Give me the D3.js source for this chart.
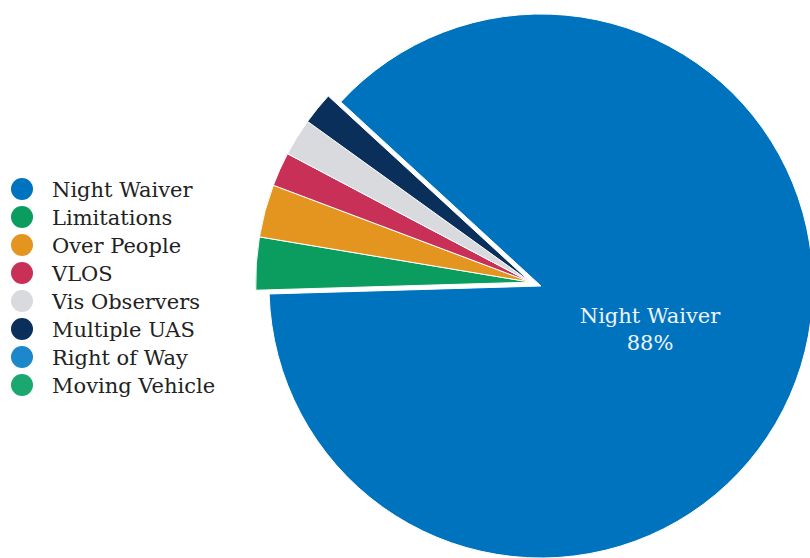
<!DOCTYPE html>
<html>
<head>
<meta charset="utf-8">
<script src="https://cdn.jsdelivr.net/npm/d3@7"></script>
<style>
  body { margin: 0; background: #fff; }
  svg text { font-family: "DejaVu Serif", "Liberation Serif", serif; }
</style>
</head>
<body>
<svg id="chart" width="810" height="558"></svg>
<script>
// waiver categories, share of total (%)
const categories = ["Night Waiver", "Limitations", "Over People", "VLOS", "Vis Observers", "Multiple UAS", "Right of Way", "Moving Vehicle"];
const values = [87.7, 3.1, 3.1, 2.0, 2.2, 1.9, 0, 0];
const colors = ["#0073bf", "#0b9c5f", "#e3951f", "#c93058", "#d8dade", "#0b2f5b", "#1c88cb", "#1aa870"];
const labelText = ["Night Waiver", "88%"];

const svg = d3.select("#chart");
const cx = 541, cy = 286, radius = 272;

const data = categories.map((c, i) => ({ name: c, value: values[i], color: colors[i] }));

// start of the big slice, clockwise from 12 o'clock
const start = 312.6 * Math.PI / 180;
const pie = d3.pie().sort(null).value(d => d.value)
    .startAngle(start).endAngle(start + 2 * Math.PI);
const arcs = pie(data);
const arc = d3.arc().innerRadius(0).outerRadius(radius);
const arcSmall = d3.arc().innerRadius(0).outerRadius(radius + 3);

// small slices are pulled out together along their common bisector
const small = arcs.slice(1);
const midA = (d3.min(small, d => d.startAngle) + d3.max(small, d => d.endAngle)) / 2;
const pull = 11;
const off = [Math.sin(midA) * pull, -Math.cos(midA) * pull];

const g = svg.append("g").attr("transform", `translate(${cx},${cy})`);

g.selectAll("path.slice")
    .data(arcs)
    .enter()
    .append("path")
    .attr("class", "slice")
    .attr("d", (d, i) => i === 0 ? arc(d) : arcSmall(d))
    .attr("transform", (d, i) => i === 0 ? null : `translate(${off[0]},${off[1]})`)
    .attr("fill", d => d.data.color)
    .attr("stroke", "#fff")
    .attr("stroke-width", d => d.value > 0 ? 1 : 0);

// label inside big slice
const lbl = g.append("text")
    .attr("x", 109)
    .attr("y", 37)
    .attr("text-anchor", "middle")
    .attr("fill", "#eef3fa")
    .style("font-size", "21px");
lbl.selectAll("tspan")
    .data(labelText)
    .enter()
    .append("tspan")
    .attr("x", 109)
    .attr("dy", (d, i) => i === 0 ? 0 : 27)
    .text(d => d);

// legend
const y = d3.scalePoint().domain(categories).range([189, 385]);
const legend = svg.append("g");
const row = legend.selectAll("g")
    .data(data)
    .enter()
    .append("g")
    .attr("transform", d => `translate(0,${y(d.name)})`);
row.append("circle")
    .attr("cx", 22)
    .attr("r", 11)
    .attr("fill", d => d.color);
row.append("text")
    .attr("x", 52)
    .attr("dy", "0.36em")
    .attr("fill", "#222")
    .style("font-size", "21px")
    .text(d => d.name);
</script>
</body>
</html>
